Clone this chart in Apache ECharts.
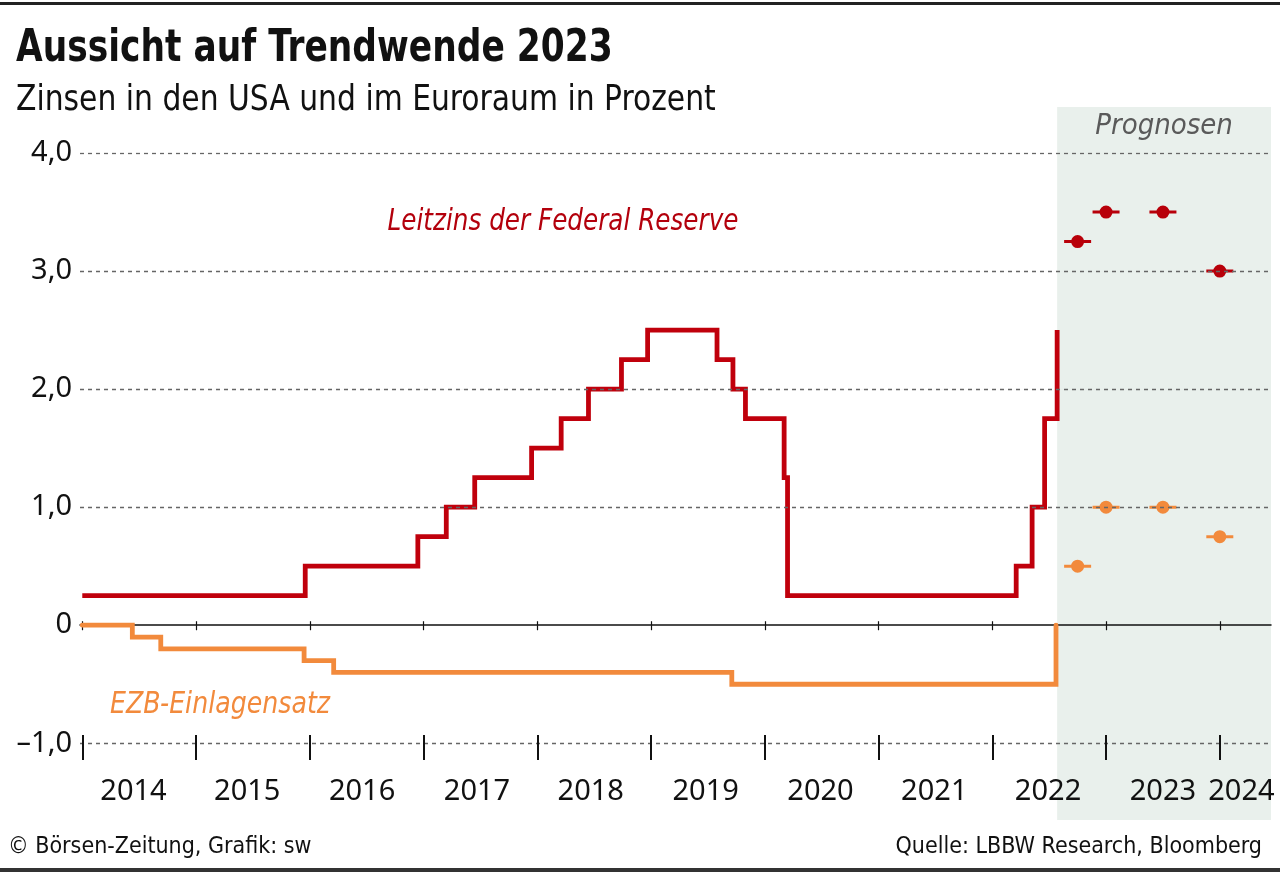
<!DOCTYPE html>
<html>
<head>
<meta charset="utf-8">
<script src="https://cdn.jsdelivr.net/npm/echarts@6/dist/echarts.min.js"></script>
<style>
html,body{margin:0;padding:0;background:#fff;}
#c{width:1280px;height:872px;}
</style>
</head>
<body>
<div id="c"></div>
<script>
// ---- data ----
const fedDates = [2014.0, 2015.96, 2016.95, 2017.2, 2017.45, 2017.95, 2018.21, 2018.45, 2018.74, 2018.97, 2019.58, 2019.72, 2019.83, 2020.17, 2020.2, 2022.21, 2022.35, 2022.46, 2022.57];
const fedRates = [0.25, 0.5, 0.75, 1.0, 1.25, 1.5, 1.75, 2.0, 2.25, 2.5, 2.25, 2.0, 1.75, 1.25, 0.25, 0.5, 1.0, 1.75, 2.5];
const ecbDates = [2014.0, 2014.44, 2014.69, 2015.95, 2016.21, 2019.71, 2022.56];
const ecbRates = [0, -0.1, -0.2, -0.3, -0.4, -0.5, 0];
const forecastDates = [2022.75, 2023.0, 2023.5, 2024.0];
const fedForecast = [3.25, 3.5, 3.5, 3.0];
const ecbForecast = [0.5, 1.0, 1.0, 0.75];
const forecastStart = 2022.57;
const yearTicks = [2014, 2015, 2016, 2017, 2018, 2019, 2020, 2021, 2022, 2023, 2024];
const yearLabelPos = [2014.45, 2015.45, 2016.46, 2017.47, 2018.47, 2019.48, 2020.49, 2021.49, 2022.49, 2023.5, 2024.19];
const yTicks = [-1, 0, 1, 2, 3, 4];

const X_MIN = 2013.98, X_MAX = 2024.45;
const Y_MIN = -1.65, Y_MAX = 4.39;

const fedData = fedDates.map((d, i) => [d, fedRates[i]]);
const ecbData = ecbDates.map((d, i) => [d, ecbRates[i]]);
const fedFc = forecastDates.map((d, i) => [d, fedForecast[i]]);
const ecbFc = forecastDates.map((d, i) => [d, ecbForecast[i]]);

const NUM_FONT = "'Noto Sans', 'Liberation Sans', sans-serif";
const COND_FONT = "'DejaVu Sans Condensed', 'DejaVu Sans', sans-serif";
const RED = '#c0000c';
const ORANGE = '#f28a3c';
const markerPath = 'path://M0,5H27V8H0Z M7,6.5A6.5,6.5 0 1 1 20,6.5A6.5,6.5 0 1 1 7,6.5Z';

const chart = echarts.init(document.getElementById('c'), null, {renderer: 'canvas'});
chart.setOption({
  animation: false,
  backgroundColor: '#ffffff',
  grid: [
    {left: 80, right: 9, top: 107, bottom: 52},
    {left: 80, right: 9, top: 735, height: 25},
    {left: 80, right: 9, top: 107, bottom: 52}
  ],
  xAxis: [
    {gridIndex: 0, type: 'value', min: X_MIN, max: X_MAX, position: 'bottom', z: 2,
     axisLine: {onZero: true, lineStyle: {color: '#111', width: 1.5}},
     axisTick: {show: true, customValues: yearTicks, length: 5, lineStyle: {color: '#111', width: 1.2}},
     axisLabel: {show: false}, splitLine: {show: false}},
    {gridIndex: 1, type: 'value', min: X_MIN, max: X_MAX, position: 'bottom', z: 5,
     axisLine: {show: false},
     axisTick: {show: true, inside: true, customValues: yearTicks, length: 25, lineStyle: {color: '#111', width: 2}},
     axisLabel: {show: true, customValues: yearLabelPos, margin: 17, fontFamily: NUM_FONT, fontSize: 29, color: '#111',
                 hideOverlap: false, formatter: v => String(Math.floor(v))},
     splitLine: {show: false}},
    {gridIndex: 2, type: 'value', min: X_MIN, max: X_MAX, position: 'bottom', z: 2,
     axisLine: {show: false, onZero: true},
     axisTick: {show: true, inside: true, customValues: yearTicks, length: 4, lineStyle: {color: '#111', width: 1.2}},
     axisLabel: {show: false}, splitLine: {show: false}}
  ],
  yAxis: [
    {gridIndex: 0, type: 'value', min: Y_MIN, max: Y_MAX,
     axisLine: {show: false}, axisTick: {show: false}, splitLine: {show: false},
     axisLabel: {show: true, customValues: yTicks, margin: 8, fontFamily: NUM_FONT, fontSize: 29, color: '#111',
                 padding: [0, 0, 14, 0],
                 formatter: v => v === 0 ? '0' : (v < 0 ? '\u2013' : '') + Math.abs(v).toFixed(1).replace('.', ',')}},
    {gridIndex: 1, type: 'value', min: 0, max: 1, show: false},
    {gridIndex: 2, type: 'value', min: Y_MIN, max: Y_MAX, show: false}
  ],
  series: [
    {name: 'shade', type: 'scatter', xAxisIndex: 0, yAxisIndex: 0, data: [], z: 0, silent: true,
     markArea: {silent: true, itemStyle: {color: '#e9f0ec'},
       label: {show: true, position: 'insideTop', distance: 5, formatter: 'Prognosen', fontFamily: COND_FONT,
               fontStyle: 'italic', fontSize: 29, color: '#5a5a5a'},
       data: [[{xAxis: forecastStart}, {xAxis: X_MAX}]]}},
    {name: 'grid', type: 'scatter', xAxisIndex: 0, yAxisIndex: 0, data: [], z: 1, silent: true,
     markLine: {silent: true, symbol: 'none', label: {show: false},
       lineStyle: {type: [4, 4], color: '#666', width: 1.3},
       data: yTicks.filter(v => v !== 0).map(v => ({yAxis: v}))}},
    {name: 'Leitzins der Federal Reserve', type: 'line', step: 'end', xAxisIndex: 0, yAxisIndex: 0,
     data: fedData, showSymbol: false, z: 3,
     lineStyle: {color: RED, width: 4.8, join: 'miter', cap: 'butt'}},
    {name: 'EZB-Einlagensatz', type: 'line', step: 'end', xAxisIndex: 0, yAxisIndex: 0,
     data: ecbData, showSymbol: false, z: 3,
     lineStyle: {color: ORANGE, width: 4.8, join: 'miter', cap: 'round'}},
    {name: 'Fed Prognose', type: 'scatter', xAxisIndex: 0, yAxisIndex: 0, data: fedFc, z: 4,
     symbol: markerPath, symbolSize: [27, 13], itemStyle: {color: '#b8000a', opacity: 1}},
    {name: 'EZB Prognose', type: 'scatter', xAxisIndex: 0, yAxisIndex: 0, data: ecbFc, z: 4,
     symbol: markerPath, symbolSize: [27, 13], itemStyle: {color: ORANGE, opacity: 1}}
  ],
  graphic: [
    {type: 'rect', shape: {x: 0, y: 2, width: 1280, height: 3}, style: {fill: '#222'}},
    {type: 'rect', shape: {x: 0, y: 868, width: 1280, height: 4}, style: {fill: '#333'}},
    {type: 'text', x: 16, y: 49, scaleX: 0.851, style: {text: 'Aussicht auf Trendwende 2023', font: "bold 45px " + COND_FONT, fill: '#111', verticalAlign: 'middle'}},
    {type: 'text', x: 16, y: 101, scaleX: 0.92, style: {text: 'Zinsen in den USA und im Euroraum in Prozent', font: "36px " + COND_FONT, fill: '#111', verticalAlign: 'middle'}},
    {type: 'text', x: 563, y: 222, scaleX: 0.914, style: {text: 'Leitzins der Federal Reserve', font: "italic 30px " + COND_FONT, fill: '#b3000c', align: 'center', verticalAlign: 'middle'}},
    {type: 'text', x: 220, y: 705, scaleX: 0.936, style: {text: 'EZB-Einlagensatz', font: "italic 30px " + COND_FONT, fill: ORANGE, align: 'center', verticalAlign: 'middle'}},
    {type: 'text', x: 8, y: 847, style: {text: '\u00a9 B\u00f6rsen-Zeitung, Grafik: sw', font: "23px " + COND_FONT, fill: '#111', verticalAlign: 'middle'}},
    {type: 'text', x: 1262, y: 847, style: {text: 'Quelle: LBBW Research, Bloomberg', font: "23px " + COND_FONT, fill: '#111', align: 'right', verticalAlign: 'middle'}}
  ]
});
</script>
</body>
</html>
